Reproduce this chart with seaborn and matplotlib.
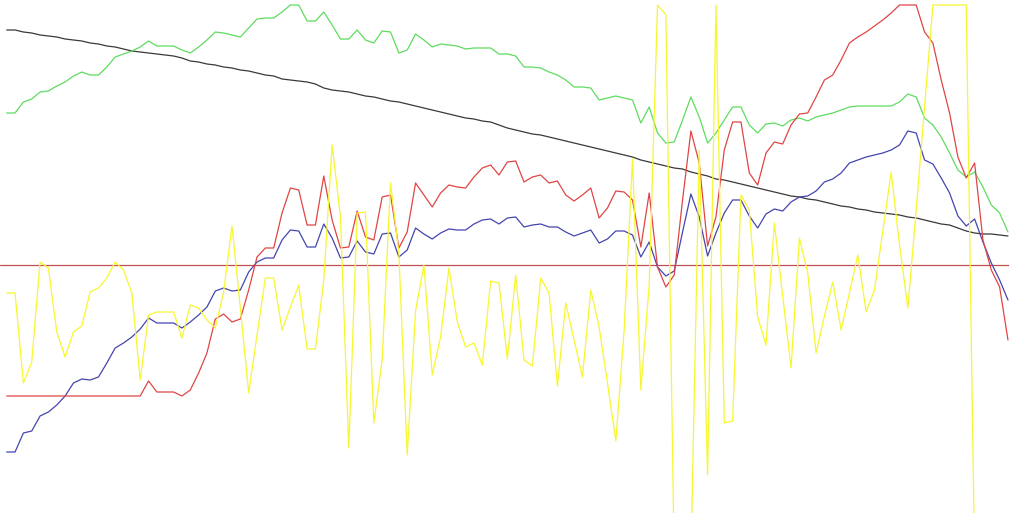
import numpy as np
import pandas as pd
import seaborn as sns
import matplotlib
matplotlib.use("Agg")
import matplotlib.pyplot as plt

# values are read in screen units (0 = top of chart, 513 = bottom)
OFF = 560  # below the visible range

black = [30,30,32,33,35,36,37,39,40,41, 43,44,46,47,49,51,52,53,54,55,
         56,58,61,62,64,65,67,68,70,71, 73,75,76,79,80,81,82,84,88,90,
         91,92,94,96,97,99,101,102,104,106, 108,110,112,114,116,118,119,121,122,125,
         128,130,132,134,135,137,139,141,143,145, 147,149,151,153,155,157,160,162,164,166,
         168,169,172,174,176,179,180,182,184,186, 188,190,192,194,196,197,199,200,202,204,
         206,207,209,210,212,213,214,215,217,218, 220,222,224,225,228,231,233,234,234,235,
         236]

green = [113,113,102,99,92,91,86,82,76,72, 75,75,67,57,54,51,47,41,46,46,
         46,50,53,47,40,32,33,35,37,28, 19,18,18,12,5,5,21,21,12,25,
         39,39,30,40,43,31,32,53,50,34, 40,47,44,45,46,49,48,48,48,54,
         54,56,67,67,68,72,75,80,87,87, 88,100,98,96,98,100,123,107,133,143,
         142,120,97,117,143,133,120,107,107,125, 133,124,123,126,120,118,121,117,115,113,
         110,107,106,106,106,106,106,102,94,97, 118,125,137,153,170,177,172,187,205,213,
         232]

red = [396]*17 + [381,392,392,392,
       396,390,373,353,319,314,322,319,290,257, 248,248,213,188,190,225,225,176,220,248,
       247,211,237,240,197,195,248,232,183,195, 207,193,185,187,188,177,168,165,175,162,
       161,182,177,175,183,181,195,201,195,188, 218,208,191,192,200,247,193,267,287,275,
       200,131,163,246,217,150,122,122,173,185, 153,142,144,125,114,113,97,80,75,60,
       43,37,32,26,20,13,5,5,5,32, 43,80,113,157,178,163,240,270,287,340]

blue = [452,452,433,431,416,412,405,396,383,379, 380,377,363,348,343,337,329,318,323,323,
        323,328,322,315,307,291,288,291,290,272, 262,258,258,240,230,231,247,247,224,238,
        258,257,241,252,254,234,233,257,250,228, 234,239,233,229,230,230,224,220,219,224,
        218,217,227,225,224,227,227,232,236,233, 230,243,239,231,231,235,257,242,267,276,
        271,232,194,217,256,233,213,200,200,216, 228,214,209,211,202,197,196,191,182,179,
        173,163,160,157,155,153,150,145,131,133, 160,164,178,193,216,226,219,242,263,280,
        300]

yellow = [293,293,383,362,262,268,332,357,332,326, 292,288,278,262,270,293,380,315,312,312,
          312,338,305,308,320,328,292,226,308,393, 335,278,278,330,307,285,349,349,280,145,
          217,448,213,212,423,360,183,253,455,311, 265,375,337,268,322,347,343,365,281,283,
          359,275,360,366,278,293,386,303,340,377, 290,327,383,441,330,159,390,285,5,15,
          OFF,OFF,OFF,150,475,5,423,421,195,210, 317,345,223,296,368,238,273,353,316,282,
          330,293,255,312,290,231,172,245,308,210, 107,5,5,5,5,5,OFF,OFF,OFF,OFF,
          OFF]

baseline = 265

series = {"black": black, "green": green, "blue": blue, "red": red, "yellow": yellow}
colors = {"black": "#3a3a3a", "green": "#5fdc5f", "blue": "#4545b0",
          "red": "#e04545", "yellow": "#f7f730"}

frames = []
for name, vals in series.items():
    frames.append(pd.DataFrame({"idx": np.arange(len(vals)), "value": vals, "series": name}))
df = pd.concat(frames, ignore_index=True)

sns.set_style("white")
fig = plt.figure(figsize=(10.09, 5.13), dpi=100)
ax = fig.add_axes([0, 0, 1, 1])

ax.axhline(baseline, color="#c05050", linewidth=0.9, zorder=1)
sns.lineplot(data=df, x="idx", y="value", hue="series", palette=colors,
             hue_order=list(series.keys()), estimator=None, sort=False,
             linewidth=0.9, legend=False, ax=ax)

step = 8.344
x0 = 6.7
ax.set_xlim(-x0 / step, (1009 - x0) / step)
ax.set_ylim(513, 0)
ax.axis("off")
fig.savefig("out.png", dpi=100, facecolor="white")
